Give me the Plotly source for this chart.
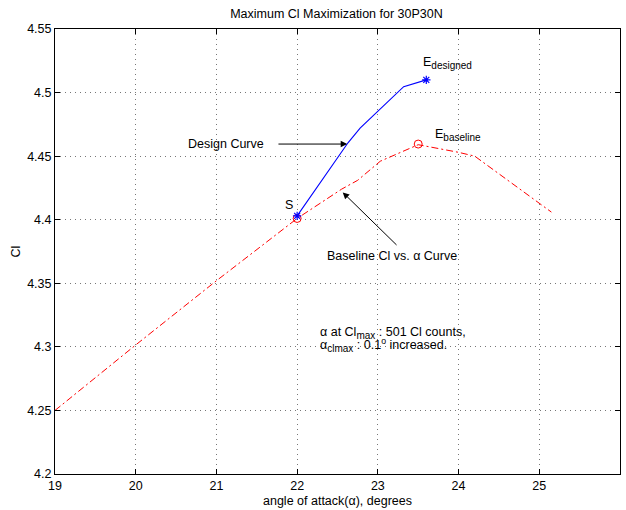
import plotly.graph_objects as go

# Baseline Cl vs alpha curve
base_alpha = [19.0, 20.0, 21.0, 22.0, 22.55, 22.75, 23.03, 23.5, 24.0, 24.2, 25.15]
base_cl = [4.250, 4.3015, 4.352, 4.401, 4.424, 4.431, 4.446, 4.459, 4.453, 4.450, 4.406]

# Design curve
des_alpha = [22.0, 22.3, 22.63, 22.78, 23.03, 23.32, 23.6]
des_cl = [4.403, 4.430, 4.4605, 4.472, 4.487, 4.5046, 4.510]

# Marked points
circ_alpha = [22.0, 23.5]
circ_cl = [4.401, 4.4595]
star_alpha = [22.0, 23.6]
star_cl = [4.403, 4.510]

x_ticks = [19, 20, 21, 22, 23, 24, 25, 26]
y_ticks = [4.2, 4.25, 4.3, 4.35, 4.4, 4.45, 4.5, 4.55]
y_tick_text = ["4.2", "4.25", "4.3", "4.35", "4.4", "4.45", "4.5", "4.55"]

FONT = "Liberation Sans, Arial, sans-serif"
FS = 12.5

def sub(s):
    return "<sub><span style='font-size:10px'>" + s + "</span></sub>"

fig = go.Figure()
fig.add_trace(go.Scatter(x=base_alpha, y=base_cl, mode="lines",
                         line=dict(color="#ff0000", width=1, dash="7px,3px,2px,3px"),
                         showlegend=False, hoverinfo="skip"))
fig.add_trace(go.Scatter(x=des_alpha, y=des_cl, mode="lines",
                         line=dict(color="#0000ff", width=1.1), showlegend=False,
                         hoverinfo="skip"))
fig.add_trace(go.Scatter(x=circ_alpha, y=circ_cl, mode="markers",
                         marker=dict(symbol="circle-open", size=8, color="#ff0000",
                                     line=dict(width=1, color="#ff0000")),
                         showlegend=False, hoverinfo="skip"))
fig.add_trace(go.Scatter(x=star_alpha, y=star_cl, mode="markers",
                         marker=dict(symbol="asterisk-open", size=7, color="#0000ff",
                                     line=dict(width=1.2, color="#0000ff")),
                         showlegend=False, hoverinfo="skip"))

ann = []
def txt(x, y, s, xanchor="left", yanchor="middle"):
    ann.append(dict(x=x, y=y, xref="x", yref="y", text=s, showarrow=False,
                    xanchor=xanchor, yanchor=yanchor,
                    font=dict(family=FONT, size=FS, color="black")))

txt(23.54, 4.5232, "E" + sub("designed"))
txt(23.684, 4.4666, "E" + sub("baseline"))
txt(21.9, 4.4115, "S", xanchor="center")
txt(21.615, 4.4595, "Design Curve", xanchor="right")
txt(23.17, 4.3714, "Baseline Cl vs. α Curve", xanchor="center")
txt(22.26, 4.3108, "α at Cl" + sub("max") + " : 501 Cl counts,")
txt(22.26, 4.3014, "α" + sub("clmax") + " : 0.1<sup>o</sup> increased.")

# arrows
ann.append(dict(x=22.62, y=4.4595, ax=21.75, ay=4.4595, xref="x", yref="y",
                axref="x", ayref="y", showarrow=True, arrowhead=2, arrowsize=1.3,
                arrowwidth=1, arrowcolor="black", text=""))
ann.append(dict(x=22.565, y=4.4215, ax=23.25, ay=4.379, xref="x", yref="y",
                axref="x", ayref="y", showarrow=True, arrowhead=2, arrowsize=1.3,
                arrowwidth=1, arrowcolor="black", text=""))

# axis titles
ann.append(dict(x=0.5, y=-27/445, xref="paper", yref="paper",
                text="angle of attack(α), degrees", showarrow=False,
                xanchor="center", yanchor="middle",
                font=dict(family=FONT, size=FS, color="black")))
ann.append(dict(x=-40/565, y=0.5, xref="paper", yref="paper", text="Cl",
                textangle=-90, showarrow=False, xanchor="center", yanchor="middle",
                font=dict(family=FONT, size=FS, color="black")))

axis_common = dict(showline=True, linecolor="black", linewidth=1, mirror="ticks",
                   ticks="inside", ticklen=5, tickcolor="black", tickwidth=1,
                   showgrid=True, gridcolor="#777777", gridwidth=1, griddash="1px,4px",
                   zeroline=False, automargin=False, fixedrange=True,
                   tickfont=dict(family=FONT, size=FS, color="black"))

fig.update_layout(
    width=626, height=510,
    margin=dict(l=55, r=6, t=29, b=36),
    paper_bgcolor="white", plot_bgcolor="white",
    hovermode=False,
    title=dict(text="Maximum Cl Maximization for 30P30N", x=0.5375, xanchor="center",
               y=1 - 14/510, yanchor="middle", yref="container",
               font=dict(family=FONT, size=FS, color="black")),
    xaxis=dict(range=[19, 26], tickvals=x_ticks, ticktext=[str(v) for v in x_ticks],
               **axis_common),
    yaxis=dict(range=[4.2, 4.55], tickvals=y_ticks, ticktext=y_tick_text, **axis_common),
    annotations=ann,
)

fig.write_html("out.html", config={"displayModeBar": False, "staticPlot": True},
               post_script="document.body.style.margin='0';document.body.style.overflow='hidden';")
